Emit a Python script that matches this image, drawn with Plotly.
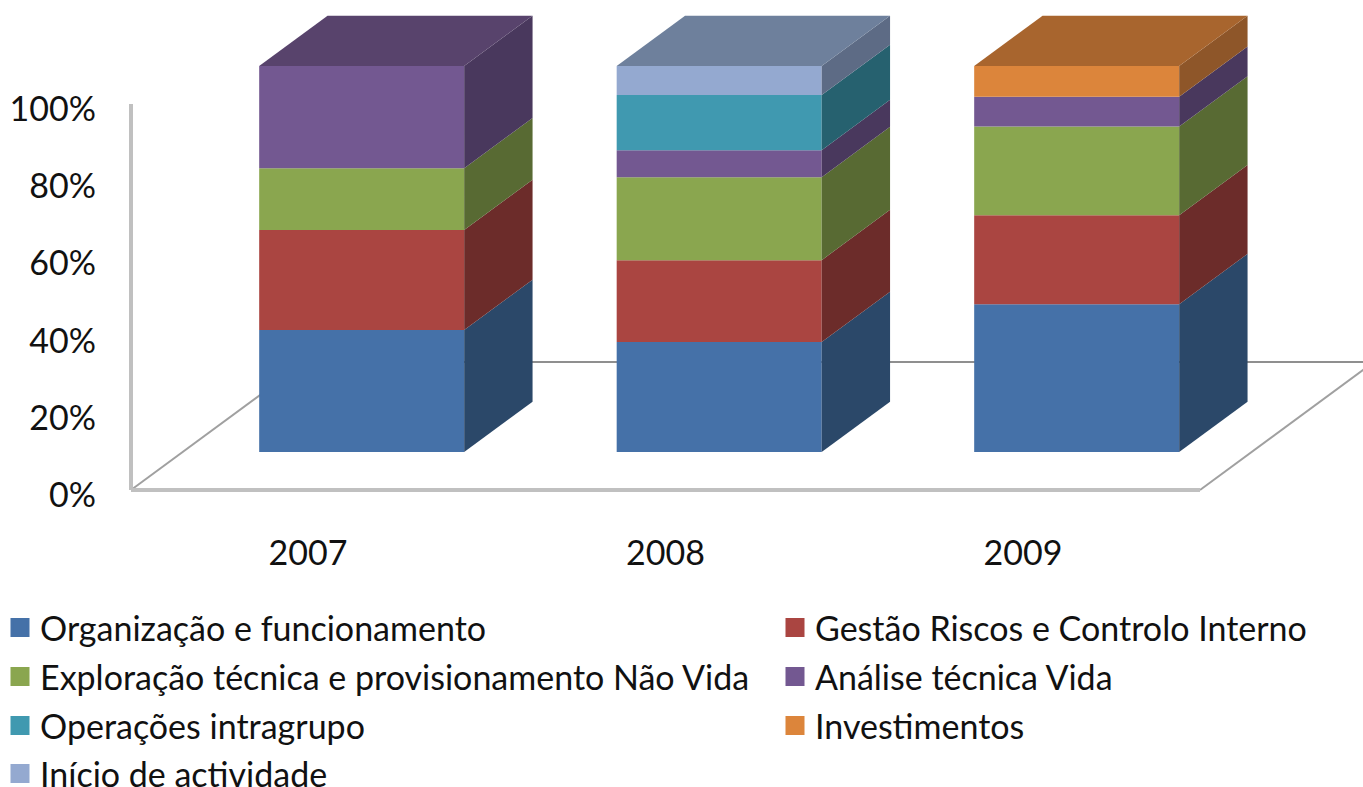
import plotly.graph_objects as go

years = [2007, 2008, 2009]
organizacao = [31.6, 28.5, 38.3]
gestao = [25.9, 21.2, 23.0]
exploracao = [16.0, 21.5, 23.0]
analise = [26.5, 7.0, 7.7]
operacoes = [0, 14.3, 0]
investimentos = [0, 0, 8.0]
inicio = [0, 7.5, 0]

series_names = ["Organização e funcionamento", "Gestão Riscos e Controlo Interno",
                "Exploração técnica e provisionamento Não Vida", "Análise técnica Vida",
                "Operações intragrupo", "Investimentos", "Início de actividade"]
series_values = [organizacao, gestao, exploracao, analise, operacoes, investimentos, inicio]
# stacking order in the picture
stack_order = [0, 1, 2, 3, 4, 6, 5]
front_colors = ["#4571a8", "#aa4541", "#8aa64f", "#735891", "#4099b0", "#dc853b", "#94a9d0"]
side_colors = ["#2b4869", "#6c2c2a", "#586a33", "#49385d", "#26616f", "#8e5629", "#5d6b85"]
top_colors = ["#365a86", "#883735", "#6e843f", "#58436c", "#33788c", "#a8652e", "#6e809c"]

W, H = 1363, 787
PX_YEAR = 357.5
PX_PCT = 3.86
X0_PX, Y0_PX = 308, 490
FLOOR_DX, FLOOR_DY = 174, 128   # oblique vector of the full floor depth in pixels
BAR_FRONT, BAR_BACK = 0.297, 0.69
BAR_W = 205 / PX_YEAR
BAR_SHIFT = 2 / PX_YEAR
LEFT_X, RIGHT_X = 131, 1200
# legend rows: (left px, centre y px)
legend_cols = [0, 775]
legend_rows = [628, 677, 726, 774]


def proj(year, pct, depth):
    return year + depth * FLOOR_DX / PX_YEAR, pct + depth * FLOOR_DY / PX_PCT


x_left = years[0] + (LEFT_X - X0_PX) / PX_YEAR
x_right = years[0] + (RIGHT_X - X0_PX) / PX_YEAR

fig = go.Figure()

# floor and wall
def line(xs, ys, color, width):
    fig.add_trace(go.Scatter(x=xs, y=ys, mode="lines", line=dict(color=color, width=width),
                             showlegend=False, hoverinfo="skip", zorder=0))

bl = proj(x_left, 0, 1)
br = proj(x_right, 0, 1)
line([x_left, bl[0]], [0, bl[1]], "#a0a0a0", 2)
line([x_right, br[0]], [0, br[1]], "#a0a0a0", 2)
line([bl[0], br[0]], [bl[1], br[1]], "#8f8f8f", 2)
line([x_left, x_left], [0, 100], "#c0c0c0", 4)
line([x_left, x_right], [0, 0], "#c0c0c0", 4)

# bars
for i, year in enumerate(years):
    cum = 0
    cx = year + BAR_SHIFT
    segs = []
    for s in stack_order:
        v = series_values[s][i]
        if v:
            segs.append((s, cum, cum + v))
            cum += v
    for s, a, b in segs:
        fx, fb = proj(cx, a, BAR_FRONT)
        _, ft = proj(cx, b, BAR_FRONT)
        fig.add_trace(go.Bar(x=[fx], y=[ft - fb], base=[fb], width=BAR_W, marker=dict(color=front_colors[s], line_width=0),
                             name=series_names[s], showlegend=False, zorder=1))
        xr = cx + BAR_W / 2
        p1 = proj(xr, a, BAR_FRONT); p2 = proj(xr, a, BAR_BACK); p3 = proj(xr, b, BAR_BACK); p4 = proj(xr, b, BAR_FRONT)
        fig.add_trace(go.Scatter(x=[p1[0], p2[0], p3[0], p4[0], p1[0]], y=[p1[1], p2[1], p3[1], p4[1], p1[1]],
                                 mode="lines", fill="toself", fillcolor=side_colors[s], line=dict(width=0),
                                 showlegend=False, hoverinfo="skip", zorder=2))
    s, a, b = segs[-1]
    xl = cx - BAR_W / 2
    xr = cx + BAR_W / 2
    p1 = proj(xl, b, BAR_FRONT); p2 = proj(xl, b, BAR_BACK); p3 = proj(xr, b, BAR_BACK); p4 = proj(xr, b, BAR_FRONT)
    fig.add_trace(go.Scatter(x=[p1[0], p2[0], p3[0], p4[0], p1[0]], y=[p1[1], p2[1], p3[1], p4[1], p1[1]],
                             mode="lines", fill="toself", fillcolor=top_colors[s], line=dict(width=0),
                             showlegend=False, hoverinfo="skip", zorder=2))

# legend entries: one small legend per entry, laid out in two columns
legends = {}
for k, (name, col) in enumerate(zip(series_names, front_colors)):
    lid = "legend" if k == 0 else f"legend{k + 1}"
    fig.add_trace(go.Scatter(x=[None], y=[None], mode="markers", name=name, legend=lid,
                             marker=dict(symbol="square", size=16, color=col, line=dict(width=3, color=col))))
    legends[lid] = dict(x=legend_cols[k % 2] / W, xanchor="left",
                        y=(H - legend_rows[k // 2]) / H, yanchor="middle",
                        bgcolor="rgba(0,0,0,0)", font=dict(size=34), itemclick=False, itemdoubleclick=False,
                        itemsizing="trace")

FONT = "Lato, Carlito, Calibri, sans-serif"
fig.update_layout(
    template="none",
    width=W, height=H, autosize=False,
    margin=dict(l=0, r=0, t=0, b=0, autoexpand=False),
    paper_bgcolor="white", plot_bgcolor="white",
    barmode="overlay",
    font=dict(family=FONT, size=34, color="#111111"),
    xaxis=dict(range=[years[0] - X0_PX / PX_YEAR, years[0] + (W - X0_PX) / PX_YEAR],
               tickmode="array", tickvals=years, ticktext=[str(y) for y in years],
               showgrid=False, zeroline=False, showline=False, ticks="", automargin=False,
               anchor="free", position=(H - 530) / H, domain=[0, 1]),
    yaxis=dict(range=[(Y0_PX - H) / PX_PCT, Y0_PX / PX_PCT],
               tickmode="array", tickvals=[0, 20, 40, 60, 80, 100],
               ticktext=["0%", "20%", "40%", "60%", "80%", "100%"],
               showgrid=False, zeroline=False, showline=False, ticks="", automargin=False,
               anchor="free", position=96 / W, domain=[0, 1], ticklabelshift=5),
    showlegend=True,
    **legends,
)
fig.write_html("out.html", config=dict(displayModeBar=False),
               post_script="document.body.style.margin='0';document.body.style.overflow='hidden';")
